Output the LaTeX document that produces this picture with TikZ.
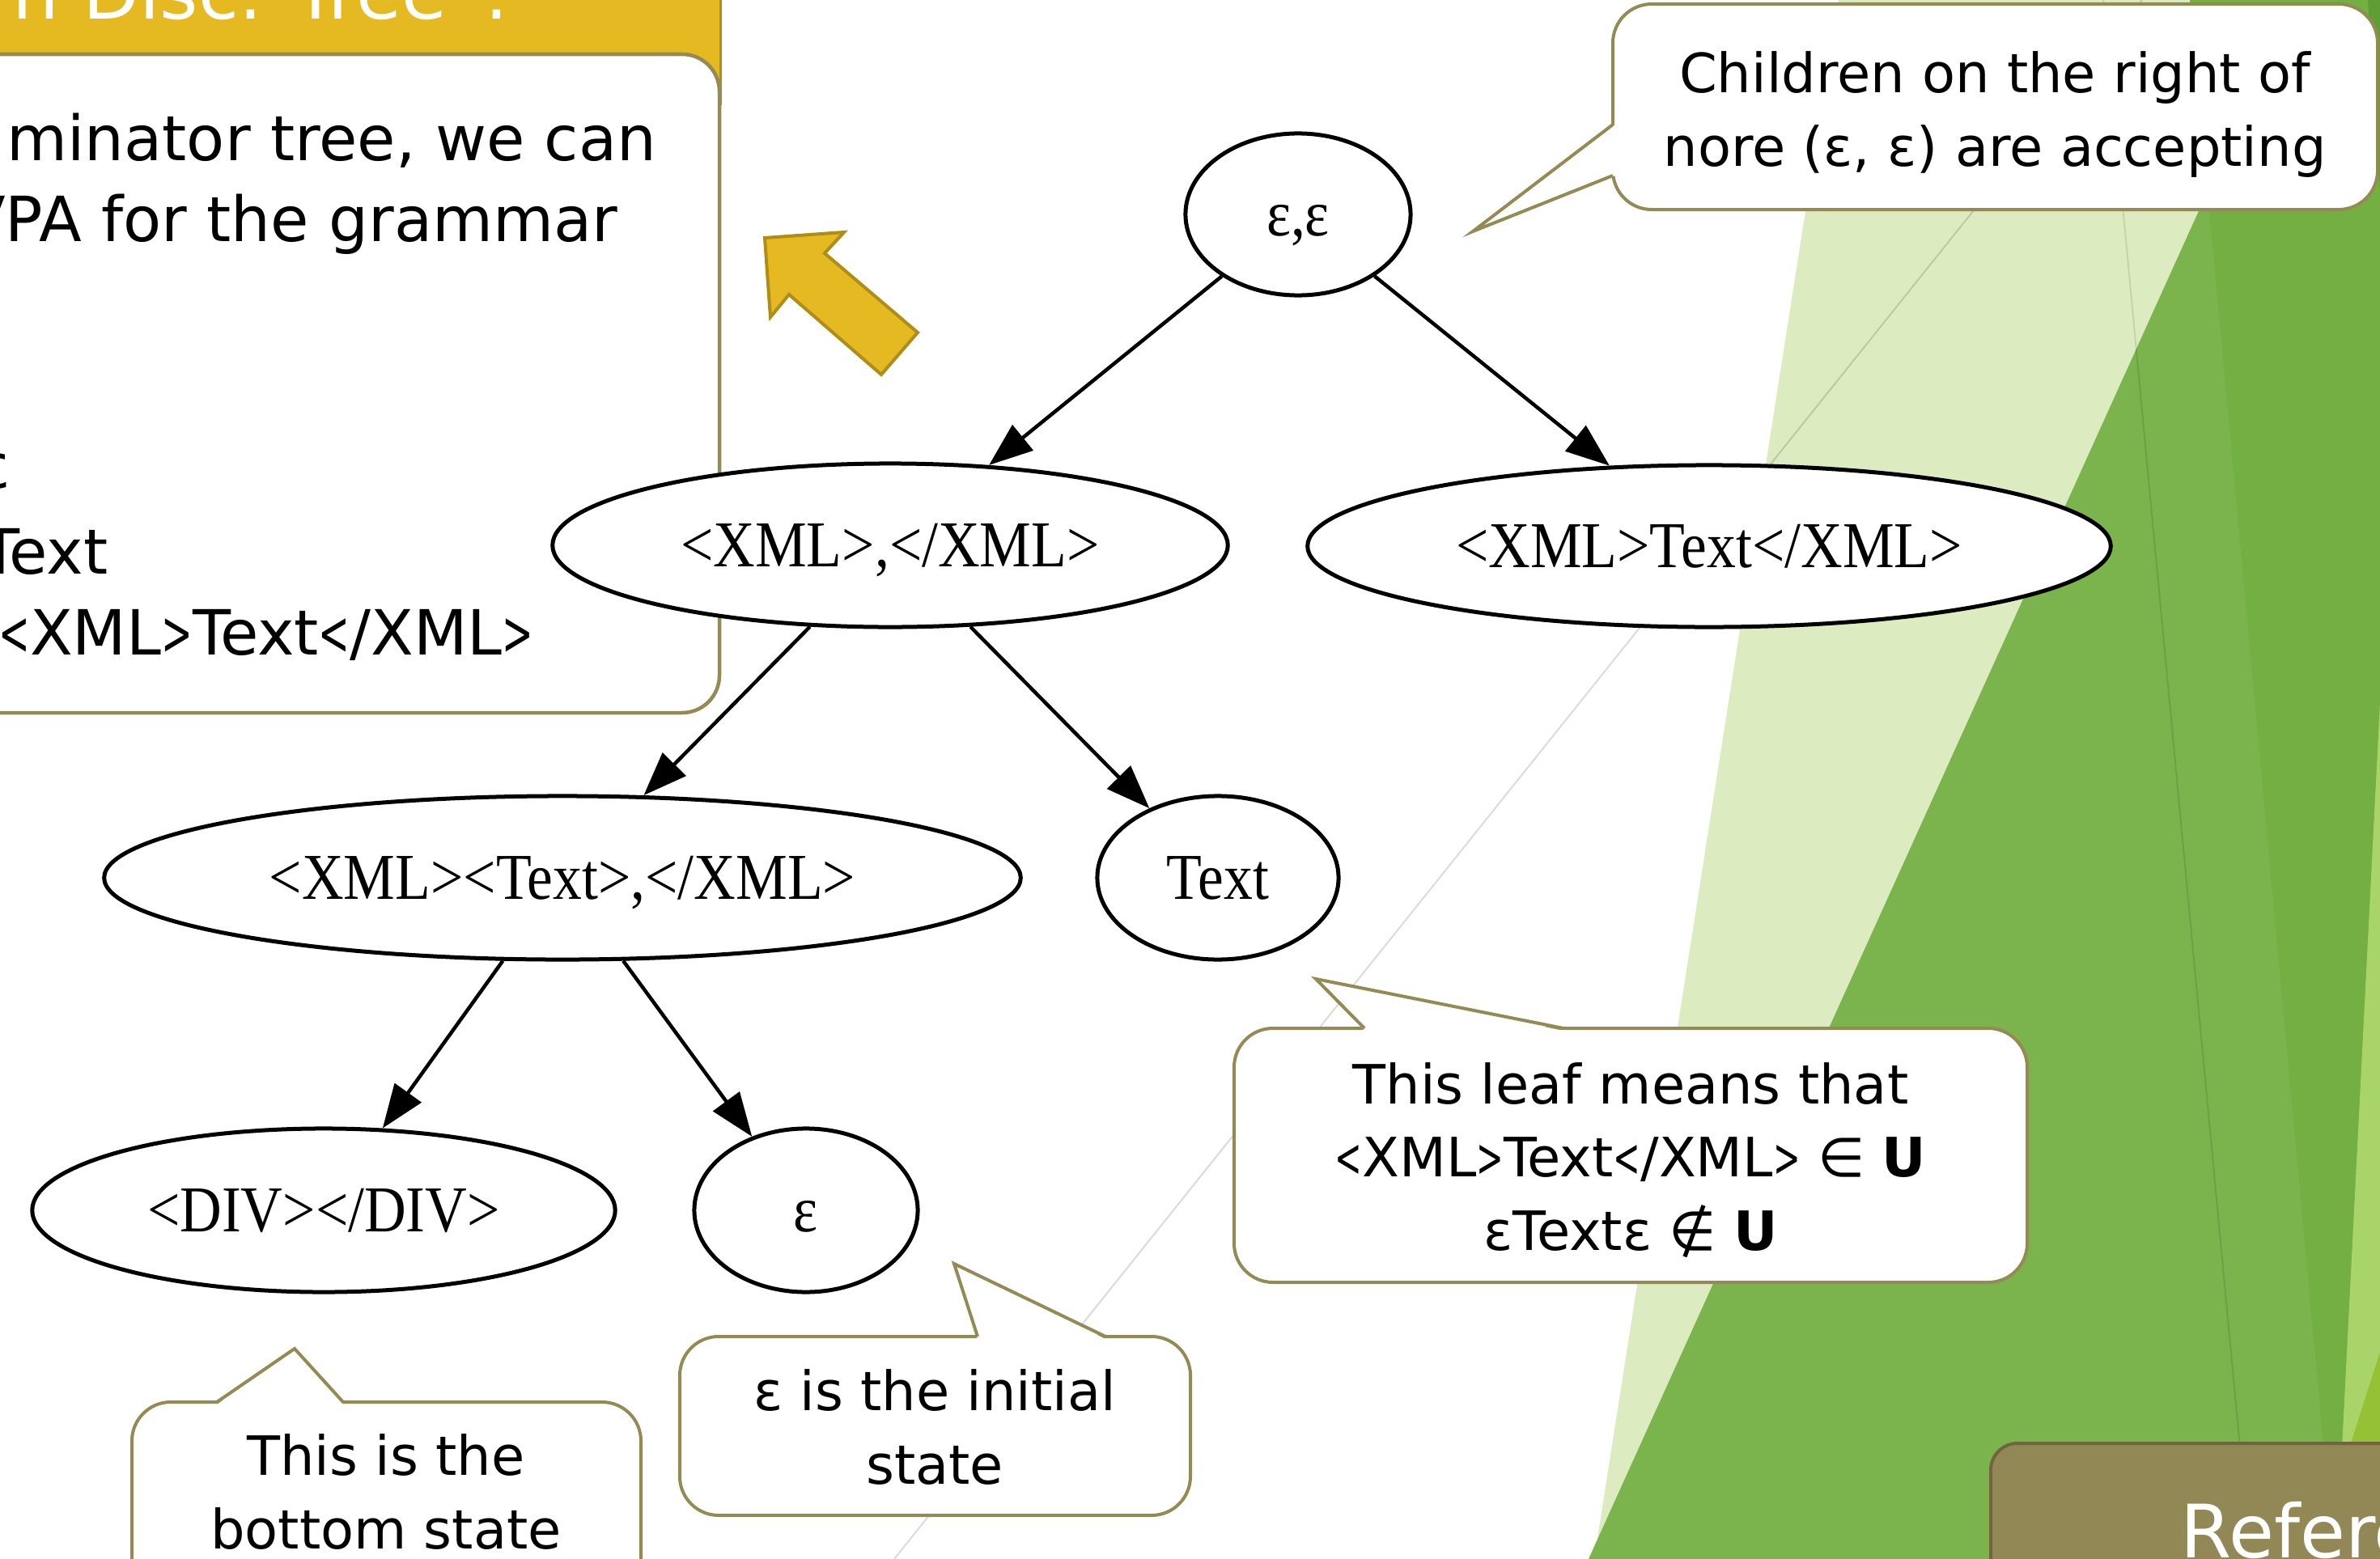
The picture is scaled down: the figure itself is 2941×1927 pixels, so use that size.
\documentclass[tikz,border=0pt]{standalone}
\usepackage{fontspec}
\usepackage{graphicx}
\setmainfont{DejaVu Sans}
\newfontfamily\nodefont[FakeStretch=0.885]{Liberation Serif}
\usetikzlibrary{arrows.meta,shapes.geometric}
\newcommand\xlt{\scalebox{0.6}[1]{<}}
\newcommand\xgt{\scalebox{0.6}[1]{>}}
\definecolor{lightg}{RGB}{221,235,193}
\definecolor{medg}{RGB}{123,180,76}
\definecolor{bandg}{RGB}{115,175,67}
\definecolor{paleg}{RGB}{169,212,106}
\definecolor{yellg}{RGB}{148,194,52}
\definecolor{topdark}{RGB}{94,158,51}
\definecolor{barYellow}{RGB}{228,185,33}
\definecolor{barDark}{RGB}{176,141,22}
\definecolor{oliveC}{RGB}{148,138,84}
\definecolor{refC}{RGB}{146,136,85}
\definecolor{refD}{RGB}{110,102,62}
\tikzset{
  state/.style={ellipse, draw=black, line width=0.05cm, fill=white, inner sep=0pt,
    font=\nodefont\fontsize{23pt}{27pt}\selectfont, text height=0.535cm, text depth=0pt},
  edge/.style={line width=0.045cm, draw=black, -{Triangle[length=0.54cm,width=0.40cm]}},
  callbox/.style={draw=oliveC, fill=white, line width=0.04cm, rounded corners=0.48cm},
  wedge/.style={draw=oliveC, line width=0.04cm, line join=miter},
  calltext/.style={inner sep=0pt, align=center, font=\fontsize{19.06pt}{25.6pt}\selectfont},
  bodytext/.style={inner sep=0pt, font=\fontsize{21.9pt}{28pt}\selectfont},
  bigwhite/.style={inner sep=0pt, text=white, font=\fontsize{25.9pt}{30pt}\selectfont},
  thinline/.style={line width=0.02cm, draw=black}
}
\begin{document}
\begin{tikzpicture}[x=0.01cm,y=-0.01cm]
\useasboundingbox (0,0) rectangle (2941,1927);
\clip (0,0) rectangle (2941,1927);
% background
\fill[fill=white] (0,0) rectangle (2941,1927);
\fill[fill=lightg] (2272,0) -- (2950,0) -- (2950,1927) -- (1970,1927) -- cycle;
\fill[fill=medg] (2835,0) -- (2950,0) -- (2950,1927) -- (1963,1927) -- cycle;
\fill[fill=bandg] (2706,0) -- (2950,0) -- (2950,1927) -- (2884,1927) -- cycle;
\fill[fill=paleg] (2945,790) -- (2945,1927) -- (2887,1927) -- cycle;
\fill[fill=yellg] (2945,1659) -- (2945,1927) -- (2859,1927) -- cycle;
\fill[fill=topdark] (2926,0) -- (2945,0) -- (2945,300) -- cycle;
\draw[thinline, opacity=0.14] (2647,0) -- (1105,1927);
\draw[thinline, opacity=0.10] (2599,0) -- (2781,1927);
% title bar and left box
\fill[fill=barYellow] (-10,-10) rectangle (891,130);
\draw[draw=barDark, line width=0.03cm] (890,-10) -- (890,130);
\node[bigwhite, anchor=base west] (title) at (15,23) {n Disc. Tree”.};
\draw[draw=oliveC, fill=white, line width=0.045cm, rounded corners=0.46cm] (-60,67) rectangle (889,881);
\node[bodytext, anchor=base east] (l1) at (812,198) {minator tree, we can};
\node[bodytext, anchor=base east] (l2) at (764,298) {VPA for the grammar};
\node[bodytext, anchor=base east] (l3) at (14,603) {ε};
\node[bodytext, anchor=base east] (l4) at (134,709) {Text};
\node[bodytext, anchor=base east] (l5) at (660,809) {\xlt XML\xgt Text\xlt /XML\xgt};
% yellow arrow
\filldraw[fill=barYellow, draw=barDark, line width=0.04cm, line join=miter]
  (945,294) -- (1043,287) -- (1019,313) -- (1134,411) -- (1089,463) -- (975,364) -- (952,392) -- cycle;
% tree
\node[state, minimum width=2.78cm, minimum height=2.00cm] (A) at (1604,265) {ε,ε};
\node[state, minimum width=8.34cm, minimum height=2.02cm] (B) at (1100,674) {<XML>,</XML>};
\node[state, minimum width=9.92cm, minimum height=2.00cm] (C) at (2112,675) {<XML>Text</XML>};
\node[state, minimum width=11.32cm, minimum height=2.02cm] (D) at (695,1085) {<XML><Text>,</XML>};
\node[state, minimum width=2.98cm, minimum height=2.02cm] (E) at (1505,1085) {Text};
\node[state, minimum width=7.20cm, minimum height=2.02cm] (F) at (400,1496) {<DIV></DIV>};
\node[state, minimum width=2.76cm, minimum height=2.02cm] (G) at (996,1496) {ε};
\draw[edge] (A) -- (B);
\draw[edge] (A) -- (C);
\draw[edge] (B) -- (D);
\draw[edge] (B) -- (E);
\draw[edge] (D) -- (F);
\draw[edge] (D) -- (G);
% callout 1
\draw[callbox] (1993,5) rectangle (2938,259);
\fill[fill=white] (1996,154) -- (1820,286) -- (1996,217) -- cycle;
\draw[wedge] (1993,154) -- (1820,286) -- (1993,217);
\node[calltext, anchor=base] (c1) at (2465,205) {Children on the right of\\nore (ε, ε) are accepting};
% callout 2
\draw[callbox] (1525,1271) rectangle (2505,1585);
\fill[fill=white] (1686,1274) -- (1626,1210) -- (1932,1274) -- cycle;
\draw[wedge] (1686,1271) -- (1626,1210) -- (1932,1271);
\node[calltext, anchor=base] (c2) at (2015,1545) {This leaf means that\\\xlt XML\xgt Text\xlt /XML\xgt{} ∈ \textbf{U}\\εTextε ∉ \textbf{U}};
% callout 3
\draw[callbox] (840,1652) rectangle (1471,1873);
\fill[fill=white] (1208,1655) -- (1179,1562) -- (1366,1655) -- cycle;
\draw[wedge] (1208,1652) -- (1179,1562) -- (1366,1652);
\node[calltext, anchor=base] (c3) at (1155,1834) {ε is the initial\\state};
% callout 4
\draw[callbox] (163,1733) rectangle (792,1990);
\fill[fill=white] (268,1736) -- (364,1667) -- (424,1736) -- cycle;
\draw[wedge] (268,1733) -- (364,1667) -- (424,1733);
\node[calltext, anchor=base] (c4) at (477,1914) {This is the\\bottom state};
% references box
\filldraw[fill=refC, draw=refD, line width=0.04cm, rounded corners=0.33cm] (2460,1784) rectangle (3050,2050);
\node[bigwhite, anchor=base west] (ref) at (2694,1925) {References};
\end{tikzpicture}
\end{document}
